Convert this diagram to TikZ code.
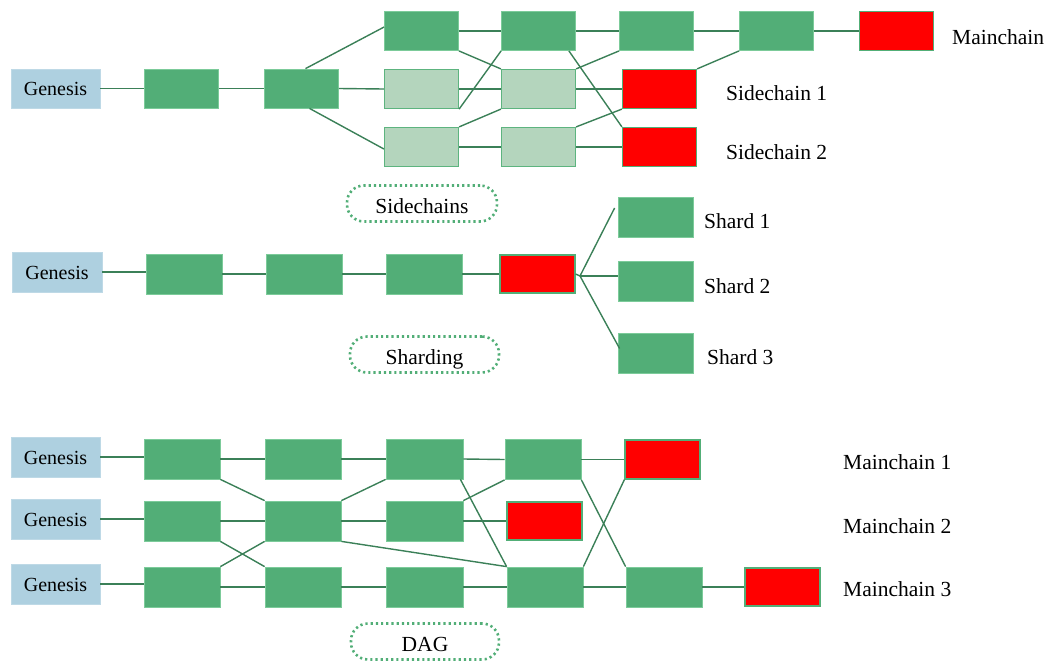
\documentclass[tikz,border=0pt]{standalone}
\usepackage{fontspec}
\setmainfont{Liberation Serif}
\definecolor{gfill}{HTML}{52AE77}
\definecolor{gedge}{HTML}{7CCB9A}
\definecolor{lfill}{HTML}{B4D5BD}
\definecolor{ledge}{HTML}{5DB47F}
\definecolor{bfill}{HTML}{AED0E0}
\definecolor{lncol}{HTML}{3B8058}
\begin{document}
\begin{tikzpicture}[x=1pt,y=-1pt,
  boxsize/.style={minimum width=74pt,minimum height=39pt},
  box/.style={rectangle,inner sep=0pt,boxsize},
  gb/.style={box,fill=gfill,draw=gedge,line width=0.8pt},
  lb/.style={box,fill=lfill,draw=ledge,line width=1.2pt},
  rb/.style={box,fill=red,draw=gfill,line width=1.2pt},
  gen/.style={box,fill=bfill,draw=bfill!80!white,line width=0.5pt,minimum width=89pt,text height=14pt,text depth=0pt,font=\fontsize{20}{24}\selectfont},
  lbl/.style={inner sep=0pt,anchor=west,text height=14pt,text depth=0pt,font=\fontsize{21.5}{26}\selectfont},
  pill/.style={rectangle,rounded corners=17pt,draw=gfill,line width=2.6pt,dash pattern=on 2.2pt off 3pt,minimum height=36pt,inner sep=0pt,text height=20pt,text depth=0pt,font=\fontsize{21.5}{26}\selectfont},
  ln/.style={draw=lncol,line width=1.4pt}]
\useasboundingbox (0,0) rectangle (1047,662);

% ---------------- Sidechains ----------------
\node[gen] (g0) at (55.5,88.5) {Genesis};
\node[gb] (a1) at (181.5,88.5) {};
\node[gb] (a2) at (301.5,88.5) {};
\node[gb] (t1) at (421.5,31) {};
\node[gb] (t2) at (538.5,31) {};
\node[gb] (t3) at (656.5,31) {};
\node[gb] (t4) at (776.5,31) {};
\node[rb] (rt) at (896.5,31) {};
\node[lb] (m1) at (421.5,89) {};
\node[lb] (m2) at (538.5,89) {};
\node[rb] (rm) at (659.5,89) {};
\node[lb] (b1) at (421.5,147) {};
\node[lb] (b2) at (538.5,147) {};
\node[rb] (rbb) at (659.5,147) {};
\node[lbl] (lmc) at (952,37) {Mainchain};
\node[lbl] (ls1) at (726,93) {Sidechain 1};
\node[lbl] (ls2) at (726,152) {Sidechain 2};
\node[pill,minimum width=150pt] (p1) at (422,203.5) {Sidechains};

\draw[ln] (g0.east) -- (a1.west);
\draw[ln] (a1.east) -- (a2.west);
\draw[ln] ([xshift=4pt]a2.north) -- ([yshift=4pt]t1.west);
\draw[ln] (a2.east) -- (m1.west);
\draw[ln] ([xshift=8pt]a2.south) -- ([yshift=-2pt]b1.west);
\draw[ln] (t1.east) -- (t2.west);
\draw[ln] (t1.south east) -- (m2.north west);
\draw[ln] (m1.south east) -- (t2.south west);
\draw[ln] (m1.east) -- (m2.west);
\draw[ln] (b1.north east) -- (m2.south west);
\draw[ln] (b1.east) -- (b2.west);
\draw[ln] (t2.east) -- (t3.west);
\draw[ln] ([xshift=-7pt]t2.south east) -- (rbb.north west);
\draw[ln] (m2.north east) -- (t3.south west);
\draw[ln] (m2.east) -- (rm.west);
\draw[ln] (b2.north east) -- (rm.south west);
\draw[ln] (b2.east) -- (rbb.west);
\draw[ln] (t3.east) -- (t4.west);
\draw[ln] (t4.south west) -- (rm.north east);
\draw[ln] (t4.east) -- (rt.west);

% ---------------- Sharding ----------------
\begin{scope}[boxsize/.style={minimum width=76pt,minimum height=40pt}]
\node[gen,minimum width=90pt] (h0) at (57,272) {Genesis};
\node[gb] (s1) at (184,274) {};
\node[gb] (s2) at (304,274) {};
\node[gb] (s3) at (424,274) {};
\node[rb,minimum width=75pt,minimum height=38pt] (sr) at (537.5,274) {};
\node[gb,minimum width=75pt] (sh1) at (655.5,217) {};
\node[gb,minimum width=75pt] (sh2) at (655.5,281.5) {};
\node[gb,minimum width=75pt] (sh3) at (655.5,353.5) {};
\end{scope}
\coordinate (fan) at (580,276);
\node[lbl] (lsh1) at (704,221) {Shard 1};
\node[lbl] (lsh2) at (704,286) {Shard 2};
\node[lbl] (lsh3) at (707,357) {Shard 3};
\node[pill,minimum width=149pt] (p2) at (424.5,354.5) {Sharding};

\draw[ln] (h0.east) -- (h0.east -| s1.west);
\draw[ln] (s1.east) -- (s2.west);
\draw[ln] (s2.east) -- (s3.west);
\draw[ln] (s3.east) -- (sr.west);
\draw[ln] (sr.east) -- (fan);
\draw[ln] (fan) -- ([shift={(-3pt,9pt)}]sh1.west);
\draw[ln] (fan) -- (fan -| sh2.west);
\draw[ln] (fan) -- ([shift={(2pt,5pt)}]sh3.west);

% ---------------- DAG ----------------
\begin{scope}[boxsize/.style={minimum width=76pt,minimum height=40pt}]
\node[gen] (d1) at (55.5,457) {Genesis};
\node[gen] (d2) at (55.5,519) {Genesis};
\node[gen] (d3) at (55.5,584) {Genesis};
\node[gb] (c11) at (182,459) {};
\node[gb] (c12) at (182,521) {};
\node[gb] (c13) at (182,587) {};
\node[gb] (c21) at (303,459) {};
\node[gb] (c22) at (303,521) {};
\node[gb] (c23) at (303,587) {};
\node[gb,minimum width=77pt] (c31) at (424.5,459) {};
\node[gb,minimum width=77pt] (c32) at (424.5,521) {};
\node[gb,minimum width=77pt] (c33) at (424.5,587) {};
\node[gb] (c41) at (543,459.5) {};
\node[rb,minimum width=75pt,minimum height=38pt] (c42) at (544.5,521) {};
\node[gb] (c43) at (545,587) {};
\node[rb,minimum width=75pt,minimum height=39pt] (c51) at (662.5,459.5) {};
\node[gb] (c53) at (664,587) {};
\node[rb,minimum width=75pt,minimum height=38pt] (c63) at (782.5,587) {};
\end{scope}
\node[lbl] (lm1) at (843,462) {Mainchain 1};
\node[lbl] (lm2) at (843,526) {Mainchain 2};
\node[lbl] (lm3) at (843,589) {Mainchain 3};
\node[pill,minimum width=148pt] (p3) at (425,641.5) {DAG};

\draw[ln] (d1.east) -- (d1.east -| c11.west);
\draw[ln] (d2.east) -- (d2.east -| c12.west);
\draw[ln] (d3.east) -- (d3.east -| c13.west);
\draw[ln] (c11.east) -- (c21.west);
\draw[ln] (c11.south east) -- (c22.north west);
\draw[ln] (c12.east) -- (c22.west);
\draw[ln] (c12.south east) -- (c23.north west);
\draw[ln] (c13.north east) -- (c22.south west);
\draw[ln] (c13.east) -- (c23.west);
\draw[ln] (c21.east) -- (c31.west);
\draw[ln] (c22.north east) -- (c31.south west);
\draw[ln] (c22.east) -- (c32.west);
\draw[ln] (c22.south east) -- (c43.north west);
\draw[ln] (c23.east) -- (c33.west);
\draw[ln] (c31.east) -- (c41.west);
\draw[ln] ([xshift=-3pt]c31.south east) -- (c43.north west);
\draw[ln] (c32.north east) -- (c41.south west);
\draw[ln] (c32.east) -- (c42.west);
\draw[ln] (c33.east) -- (c43.west);
\draw[ln] (c41.east) -- (c51.west);
\draw[ln] (c41.south east) -- (c53.north west);
\draw[ln] (c43.north east) -- (c51.south west);
\draw[ln] (c43.east) -- (c53.west);
\draw[ln] (c53.east) -- (c63.west);
\end{tikzpicture}
\end{document}
